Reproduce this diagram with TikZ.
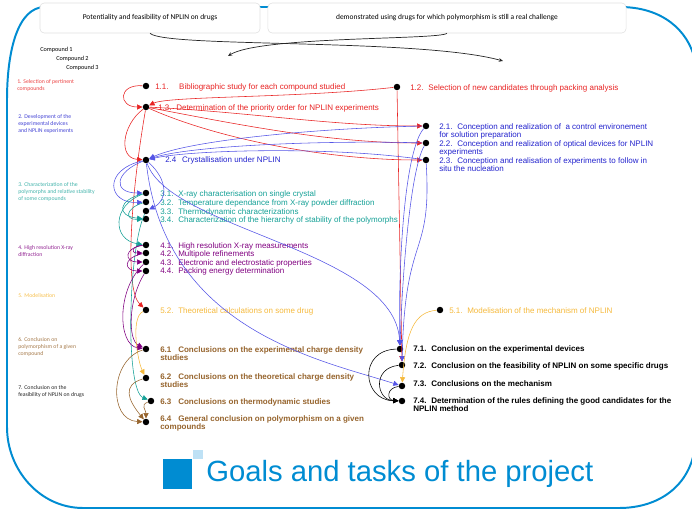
\documentclass[tikz,border=0pt]{standalone}
\usepackage{fontspec}
\setmainfont{Liberation Sans}
\newfontfamily\calib{Carlito}
\usetikzlibrary{arrows.meta, calc}

\definecolor{tred}{RGB}{232,35,35}
\definecolor{tblue}{RGB}{35,35,205}
\definecolor{lblue}{RGB}{85,85,230}
\definecolor{tteal}{RGB}{20,160,150}
\definecolor{tpurple}{RGB}{128,0,128}
\definecolor{torange}{RGB}{245,185,60}
\definecolor{tbrown}{RGB}{150,100,45}
\definecolor{frameblue}{RGB}{0,140,210}
\definecolor{paleblue}{RGB}{190,225,245}

\newcommand{\tasknum}[2][12.8pt]{\makebox[#1][l]{#2}}
\newcommand{\itemsize}{\fontsize{5.7}{6.2}\selectfont}

\begin{document}
\begin{tikzpicture}[
        x=0.025cm, y=-0.025cm,
        dot/.style={circle, fill=black, inner sep=0pt, minimum size=4.6pt},
        task/.style={anchor=north west, inner sep=0pt, align=left, font=\itemsize},
        phase/.style={anchor=north west, inner sep=0pt, align=left, font=\calib\fontsize{4.1}{5}\selectfont},
        compound/.style={anchor=west, inner sep=0pt, font=\calib\fontsize{4.4}{5}\selectfont},
        headbox/.style={rectangle, draw=black!12, rounded corners=3pt, fill=white, minimum height=0.75cm, font=\calib\fontsize{5.3}{6}\selectfont},
        link/.style={line width=0.4pt, -{Triangle[length=3.8pt,width=3.6pt]}},
        toparrow/.style={line width=0.5pt, black!85, -{Stealth[length=3pt,width=2.6pt]}}
    ]
        \useasboundingbox (0,0) rectangle (692,512);

        \draw[frameblue, line width=1.4pt] (45,7) -- (620,7) .. controls (662,7) and (688,30) .. (695,60) -- (695,447)
            .. controls (690,485) and (660,508) .. (619,508) -- (83,508) .. controls (40,508) and (7,470) .. (7,427)
            -- (7,100) .. controls (7,50) and (18,7) .. (45,7) -- cycle;

        \node[headbox, minimum width=5.5cm] (potential) at (150,18) {Potentiality and feasibility of NPLIN on drugs};
        \node[headbox, minimum width=8.95cm] (challenge) at (447,18) {demonstrated using drugs for which polymorphism is still a real challenge};
        \coordinate (aimR) at (503,61);
        \coordinate (aimL) at (228,56);
        \draw[toparrow] (potential.south) .. controls (165,48) and (420,38) .. (aimR);
        \draw[toparrow] (challenge.south) .. controls (440,40) and (260,36) .. (aimL);

        \node[compound] (cp1) at (40,50) {Compound 1};
        \node[compound] (cp2) at (56,59) {Compound 2};
        \node[compound] (cp3) at (66,68) {Compound 3};

        \node[phase, text=tred!85] (ph1) at (17,79) {1. Selection of pertinent\\compounds};
        \node[phase, text=tblue!85] (ph2) at (18,114) {2. Development of the\\experimental devices\\and NPLIN experiments};
        \node[phase, text=tteal!80] (ph3) at (18,182) {3. Characterization of the\\polymorphs and relative stability\\of some compounds};
        \node[phase, text=tpurple!85] (ph4) at (18,245) {4. High resolution X-ray\\diffraction};
        \node[phase, text=torange!90] (ph5) at (18,293) {5. Modelisation};
        \node[phase, text=tbrown!85] (ph6) at (18,337) {6. Conclusion on\\polymorphism of a given\\compound};
        \node[phase, text=black!85] (ph7) at (18,385) {7. Conclusion on the\\feasibility of NPLIN on drugs};

        \node[dot] (d11) at (146,86) {};
        \node[dot] (d13) at (146,107) {};
        \node[dot] (d12) at (397,87) {};
        \node[dot] (d21) at (426,126) {};
        \node[dot] (d22) at (426,143) {};
        \node[dot] (d23) at (426,160) {};
        \node[dot] (d24) at (146,160) {};
        \node[dot] (d31) at (146,193) {};
        \node[dot] (d32) at (146,202) {};
        \node[dot] (d33) at (146,211) {};
        \node[dot] (d34) at (146,219) {};
        \node[dot] (d41) at (146,245) {};
        \node[dot] (d42) at (146,253) {};
        \node[dot] (d43) at (146,262) {};
        \node[dot] (d44) at (146,271) {};
        \node[dot] (d52) at (146,310) {};
        \node[dot] (d51) at (440,310) {};
        \node[dot] (d61) at (146,349) {};
        \node[dot] (d62) at (146,378) {};
        \node[dot] (d63) at (151,401) {};
        \node[dot] (d64) at (146,422) {};
        \node[dot] (d71) at (400,349) {};
        \node[dot] (d72) at (402,365) {};
        \node[dot] (d73) at (402,386) {};
        \node[dot] (d74) at (402,401) {};

        \node[task, text=tred] (t11) at (155,83) {\tasknum[17pt]{1.1.}Bibliographic study for each compound studied};
        \node[task, text=tred] (t13) at (158,104) {\tasknum{1.3.}Determination of the priority order for NPLIN experiments};
        \node[task, text=tred] (t12) at (410,84) {\tasknum{1.2.}Selection of new candidates through packing analysis};
        \node[task, text=tblue] (t21) at (439,123) {\tasknum{2.1.}Conception and realization of \ a control environement\\for solution preparation};
        \node[task, text=tblue] (t22) at (439,140) {\tasknum{2.2.}Conception and realization of optical devices for NPLIN\\experiments};
        \node[task, text=tblue] (t23) at (439,157) {\tasknum{2.3.}Conception and realisation of experiments to follow in\\situ the nucleation};
        \node[task, text=tblue] (t24) at (165,156) {\tasknum[12pt]{2.4}Crystallisation under NPLIN};
        \node[task, text=tteal] (t31) at (160,190) {\tasknum{3.1.}X-ray characterisation on single crystal};
        \node[task, text=tteal] (t32) at (160,199) {\tasknum{3.2.}Temperature dependance from X-ray powder diffraction};
        \node[task, text=tteal] (t33) at (160,208) {\tasknum{3.3.}Thermodynamic characterizations};
        \node[task, text=tteal] (t34) at (160,216) {\tasknum{3.4.}Characterization of the hierarchy of stability of the polymorphs};
        \node[task, text=tpurple] (t41) at (160,242) {\tasknum{4.1.}High resolution X-ray measurements};
        \node[task, text=tpurple] (t42) at (160,250) {\tasknum{4.2.}Multipole refinements};
        \node[task, text=tpurple] (t43) at (160,259) {\tasknum{4.3.}Electronic and electrostatic properties};
        \node[task, text=tpurple] (t44) at (160,267) {\tasknum{4.4.}Packing energy determination};
        \node[task, text=torange] (t52) at (160,307) {\tasknum{5.2.}Theoretical calculations on some drug};
        \node[task, text=torange] (t51) at (449,307) {\tasknum{5.1.}Modelisation of the mechanism of NPLIN};
        \node[task, text=tbrown, font=\itemsize\bfseries] (t61) at (160,346) {\tasknum{6.1}Conclusions on the experimental charge density\\studies};
        \node[task, text=tbrown, font=\itemsize\bfseries] (t62) at (160,373) {\tasknum{6.2}Conclusions on the theoretical charge density\\studies};
        \node[task, text=tbrown, font=\itemsize\bfseries] (t63) at (160,398) {\tasknum{6.3}Conclusions on thermodynamic studies};
        \node[task, text=tbrown, font=\itemsize\bfseries] (t64) at (160,415) {\tasknum{6.4}General conclusion on polymorphism on a given\\compounds};
        \node[task, font=\itemsize\bfseries] (t71) at (413,345) {\tasknum{7.1.}Conclusion on the experimental devices};
        \node[task, font=\itemsize\bfseries] (t72) at (413,362) {\tasknum{7.2.}Conclusion on the feasibility of NPLIN on some specific drugs};
        \node[task, font=\itemsize\bfseries] (t73) at (413,380) {\tasknum{7.3.}Conclusions on the mechanism};
        \node[task, font=\itemsize\bfseries] (t74) at (413,397) {\tasknum{7.4.}Determination of the rules defining the good candidates for the\\NPLIN method};

        \draw[link, tred] (d11) .. controls (118,84) and (118,107) .. (d13);
        \draw[link, tred] (d12) .. controls (300,98) and (168,96) .. (d13);
        \draw[link, tred] (d13) .. controls (250,112) and (330,126) .. (d21);
        \draw[link, tred] (d13) .. controls (240,125) and (330,143) .. (d22);
        \draw[link, tred] (d13) .. controls (220,140) and (330,160) .. (d23);
        \draw[link, tred] (d13) .. controls (122,125) and (118,158) .. (d24);
        \draw[link, tred] (d13) .. controls (130,200) and (125,290) .. (d52);
        \draw[link, tred] (d12) -- (d72);

        \draw[link, lblue] (d21) .. controls (320,128) and (190,140) .. (d24);
        \draw[link, lblue] (d22) .. controls (320,140) and (190,146) .. (d24);
        \draw[link, lblue] (d23) .. controls (330,146) and (190,150) .. (d24);
        \draw[link, lblue] (d21) .. controls (405,150) and (398,260) .. (d71);
        \draw[link, lblue] (d22) .. controls (410,170) and (402,280) .. (d71);
        \draw[link, lblue] (d23) .. controls (432,260) and (405,230) .. (d72);
        \draw[link, lblue] (d24) .. controls (115,172) and (112,193) .. (d31);
        \draw[link, lblue] (d24) .. controls (102,170) and (108,204) .. (d32);
        \draw[link, lblue] (d24) .. controls (168,180) and (168,200) .. (d33);
        \draw[link, lblue] (d24) .. controls (170,230) and (395,250) .. (d71);
        \draw[link, lblue] (d24) .. controls (165,330) and (320,360) .. (d73);

        \draw[link, tteal] (d31) .. controls (118,200) and (116,216) .. (d34);
        \draw[link, tteal] (d32) .. controls (126,208) and (124,220) .. (d34);
        \draw[link, tteal] (d31) .. controls (112,205) and (112,240) .. (d41);
        \draw[link, tteal] (d33) .. controls (128,250) and (125,390) .. (d63);

        \draw[link, tpurple] (d41) .. controls (132,246) and (130,253) .. (d42);
        \draw[link, tpurple] (d41) .. controls (124,248) and (124,262) .. (d43);
        \draw[link, tpurple] (d42) .. controls (122,258) and (124,271) .. (d44);
        \draw[link, tpurple] (d43) .. controls (116,290) and (118,345) .. (d61);
        \draw[link, tpurple] (d44) .. controls (128,300) and (128,340) .. (d61);

        \draw[link, torange] (d52) .. controls (130,318) and (138,362) .. (d62);
        \draw[link, torange] (d51) .. controls (415,312) and (406,330) .. (d73);

        \draw[link, tbrown] (d61) .. controls (110,360) and (108,420) .. (d64);
        \draw[link, tbrown] (d62) .. controls (122,385) and (128,400) .. (d64);
        \draw[link, tbrown] (d63) .. controls (140,405) and (146,410) .. (d64);

        \draw[link, black] (d71) .. controls (358,350) and (362,400) .. (d74);
        \draw[link, black] (d72) .. controls (372,368) and (376,400) .. (d74);
        \draw[link, black] (d73) .. controls (386,388) and (387,400) .. (d74);

        \node[fill=frameblue, inner sep=0pt, minimum width=0.725cm, minimum height=0.75cm, anchor=north west] (bigsq) at (163,459) {};
        \node[fill=paleblue, inner sep=0pt, minimum width=0.25cm, minimum height=0.225cm, anchor=south west] (smallsq) at (bigsq.north east) {};
        \node[anchor=base west, inner sep=0pt, text=frameblue, font=\fontsize{20.8}{24}\selectfont] (title) at (206,481) {Goals and tasks of the project};
    \end{tikzpicture}
\end{document}
